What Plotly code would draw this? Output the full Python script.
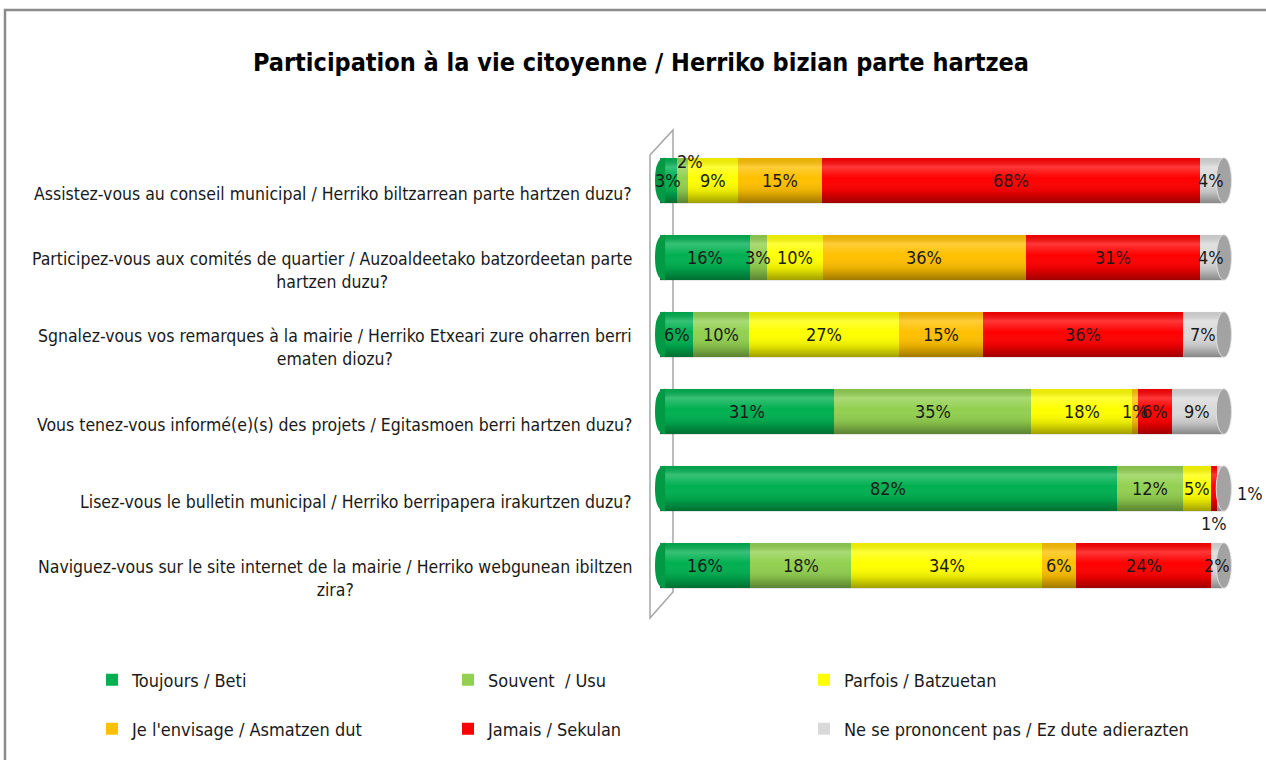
import plotly.graph_objects as go

questions = [
    "Assistez-vous au conseil municipal / Herriko biltzarrean parte hartzen duzu?",
    "Participez-vous aux comités de quartier / Auzoaldeetako batzordeetan parte<br>hartzen duzu?",
    "Sgnalez-vous vos remarques à la mairie / Herriko Etxeari zure oharren berri<br>ematen diozu?",
    "Vous tenez-vous informé(e)(s) des projets / Egitasmoen berri hartzen duzu?",
    "Lisez-vous le bulletin municipal / Herriko berripapera irakurtzen duzu?",
    "Naviguez-vous sur le site internet de la mairie / Herriko webgunean ibiltzen<br>zira?",
]
series_names = [
    "Toujours / Beti",
    "Souvent  / Usu",
    "Parfois / Batzuetan",
    "Je l'envisage / Asmatzen dut",
    "Jamais / Sekulan",
    "Ne se prononcent pas / Ez dute adierazten",
]
toujours = [3, 16, 6, 31, 82, 16]
souvent = [2, 3, 10, 35, 12, 18]
parfois = [9, 10, 27, 18, 5, 34]
envisage = [15, 36, 15, 1, 0, 6]
jamais = [68, 31, 36, 6, 1, 24]
nsp = [4, 4, 7, 9, 1, 2]
values = [toujours, souvent, parfois, envisage, jamais, nsp]
colors = ["#00B050", "#92D050", "#FFFF00", "#FFC000", "#FF0000", "#D9D9D9"]
cap_start_colors = ["#009A45", "#7DBB40", "#E6E600", "#E0A800", "#D90000", "#BFBFBF"]

FONT = "DejaVu Sans Condensed, DejaVu Sans, sans-serif"
W, H = 1266, 760
XR = [-0.9, 101.7]
ML, MR, MT, MB = 655, 34, 142, 156
PW, PH = W - ML - MR, H - MT - MB
BARGAP = 0.41
HALF = (1 - BARGAP) / 2

def px_x(px):
    return (px - ML) / PW

def px_y(py):
    return (H - MB - py) / PH

keys = [f"q{i}" for i in range(len(questions))]
totals = [sum(v[i] for v in values) for i in range(len(keys))]

# labels placed outside the bar: (series, row) -> (xshift, yshift up)
outside = {(1, 0): (8, 19), (4, 4): (0, -35), (5, 4): (30, -5)}

fig = go.Figure()
for s, (name, vals, col) in enumerate(zip(series_names, values, colors)):
    fig.add_trace(go.Bar(
        y=keys, x=vals, orientation="h", name=name,
        marker=dict(color=col, line=dict(width=0)),
        legend="legend" if s == 0 else f"legend{s + 1}",
        hoverinfo="skip",
    ))

# cylinder shading overlay
for r, k in enumerate(keys):
    fig.add_trace(go.Scatter(
        x=[0, 100, 100, 0, 0],
        y=[r - HALF, r - HALF, r + HALF, r + HALF, r - HALF],
        mode="lines", line=dict(width=0), fill="toself",
        fillgradient=dict(type="vertical", start=r + HALF, stop=r - HALF,
                          colorscale=[[0, "rgba(0,0,0,0.38)"],
                                      [0.25, "rgba(0,0,0,0.10)"],
                                      [0.55, "rgba(255,255,255,0.0)"],
                                      [0.8, "rgba(255,255,255,0.22)"],
                                      [1, "rgba(0,0,0,0.08)"]]),
        showlegend=False, hoverinfo="skip", yaxis="y2",
    ))

annotations = []
label_font = dict(family=FONT, size=18, color="#1a1a1a")
for s in range(len(values)):
    for r in range(len(keys)):
        v = values[s][r]
        if v == 0:
            continue
        before = sum(values[k][r] for k in range(s))
        center = (before + v / 2) / totals[r] * 100
        dx, dy = outside.get((s, r), (0, 0))
        annotations.append(dict(
            x=center, y=keys[r], xref="x", yref="y", text=f"{v}%",
            showarrow=False, xshift=dx, yshift=dy, font=label_font,
        ))

for k, q in zip(keys, questions):
    annotations.append(dict(
        x=px_x(634), y=k, xref="paper", yref="y", text=q, showarrow=False,
        xanchor="right", align="center", yshift=-13,
        font=dict(family=FONT, size=17.5, color="#1a1a1a"),
    ))

shapes = []
wall = dict(type="path", xref="paper", yref="paper", layer="below",
            line=dict(color="#A6A6A6", width=1.5))
path = (f"M {px_x(650)} {px_y(618)} L {px_x(650)} {px_y(155)} L {px_x(673)} {px_y(130)} "
        f"L {px_x(673)} {px_y(592)} Z")
shapes.append(dict(wall, path=path))
for r, k in enumerate(keys):
    first = next(i for i in range(len(values)) if values[i][r] > 0)
    shapes.append(dict(type="circle", xref="x", yref="y", layer="above",
                       x0=98.9, x1=101.6, y0=r - HALF, y1=r + HALF,
                       fillcolor="#A3A3A3", line=dict(color="#E0E0E0", width=1)))
    shapes.append(dict(type="path", xref="x", yref="y", layer="above",
                       path=(f"M 0.9 {r - HALF} Q -0.9 {r - HALF} -0.9 {r} "
                             f"Q -0.9 {r + HALF} 0.9 {r + HALF} Z"),
                       fillcolor=cap_start_colors[first], line=dict(width=0)))
shapes.append(dict(type="rect", xref="paper", yref="paper", layer="below",
                   x0=px_x(5), x1=px_x(1290), y0=px_y(10), y1=px_y(790),
                   line=dict(color="#8C8C8C", width=2.5)))

legend_common = dict(xref="container", yref="container", xanchor="left",
                     yanchor="middle", bgcolor="rgba(0,0,0,0)",
                     font=dict(family=FONT, size=18, color="#1a1a1a"),
                     itemclick=False, itemdoubleclick=False)
col_x = [92, 448, 804]
row_y = [680, 729]
legends = {}
for s in range(len(series_names)):
    key = "legend" if s == 0 else f"legend{s + 1}"
    legends[key] = dict(legend_common, x=col_x[s % 3] / W, y=1 - row_y[s // 3] / H)

fig.update_layout(
    width=W, height=H,
    margin=dict(l=ML, r=MR, t=MT, b=MB, autoexpand=False),
    paper_bgcolor="white", plot_bgcolor="rgba(0,0,0,0)",
    barmode="stack", barnorm="percent", bargap=BARGAP,
    title=dict(text="<b>Participation à la vie citoyenne / Herriko bizian parte hartzea</b>",
               x=641 / W, xref="container", xanchor="center", y=1 - 62 / H, yanchor="middle",
               font=dict(family=FONT, size=25, color="#000000")),
    xaxis=dict(range=XR, visible=False, fixedrange=True),
    yaxis=dict(autorange="reversed", showticklabels=False, showgrid=False,
               zeroline=False, showline=False, ticks="", fixedrange=True),
    yaxis2=dict(overlaying="y", range=[len(keys) - 0.5, -0.5], visible=False,
                fixedrange=True),
    annotations=annotations,
    shapes=shapes,
    showlegend=True,
    **legends,
)

fig.write_html("out.html", config={"displayModeBar": False},
               post_script="document.body.style.margin='0px';"
                           "document.documentElement.style.overflow='hidden';")
